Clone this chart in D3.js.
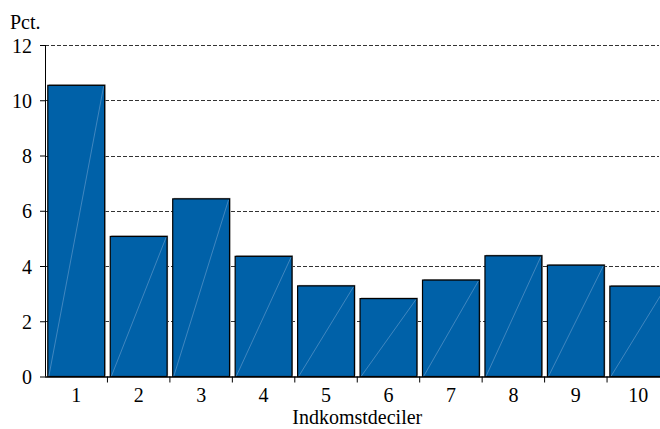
<!DOCTYPE html>
<html>
<head>
<meta charset="utf-8">
<script src="https://cdn.jsdelivr.net/npm/d3@7"></script>
<style>
  html, body { margin: 0; padding: 0; background: #fff; }
  svg { display: block; }
  svg text { font-family: "Liberation Serif", "Times New Roman", Times, serif !important; }
</style>
</head>
<body>
<svg id="chart" width="660" height="429"></svg>
<script>
// Andel pr. indkomstdecil
const deciles = ["1", "2", "3", "4", "5", "6", "7", "8", "9", "10"];
const values = [10.54, 5.07, 6.43, 4.35, 3.28, 2.82, 3.49, 4.37, 4.03, 3.27];
const yTicks = [0, 2, 4, 6, 8, 10, 12];
const yLabel = "Pct.";
const xLabel = "Indkomstdeciler";

const FS = 20;

const svg = d3.select("#chart");
const plotLeft = 45, plotRight = 669.5, plotTop = 45, plotBottom = 376.5;

const x = d3.scaleBand().domain(deciles).range([plotLeft, plotRight])
  .paddingInner(0.09).paddingOuter(0.045);
const y = d3.scaleLinear().domain([0, 12]).range([plotBottom, plotTop]);

// dashed gridlines
svg.append("g").selectAll("line").data(yTicks.filter(d => d > 0)).join("line")
  .attr("x1", plotLeft).attr("x2", 659)
  .attr("y1", d => Math.round(y(d)) + 0.5).attr("y2", d => Math.round(y(d)) + 0.5)
  .attr("stroke", "#333").attr("stroke-width", 1)
  .attr("stroke-dasharray", "4,2");

// bars: grey offset shadow, blue body, light diagonal
const bars = svg.append("g").selectAll("g").data(deciles).join("g");
bars.append("rect")
  .attr("x", (d) => x(d) + 1)
  .attr("y", (d, i) => y(values[i]) - 1)
  .attr("width", x.bandwidth())
  .attr("height", (d, i) => plotBottom - y(values[i]))
  .attr("fill", "#9a9a9a");
bars.append("rect")
  .attr("x", d => x(d))
  .attr("y", (d, i) => y(values[i]))
  .attr("width", x.bandwidth())
  .attr("height", (d, i) => plotBottom - y(values[i]))
  .attr("fill", "#0061a8")
  .attr("stroke", "#000").attr("stroke-width", 1.2);
bars.append("line")
  .attr("x1", d => x(d) + 1).attr("y1", plotBottom)
  .attr("x2", d => x(d) + x.bandwidth() - 1)
  .attr("y2", (d, i) => y(values[i]) + 1)
  .attr("stroke", "#5b97c8").attr("stroke-width", 0.7);

// y axis
const yAxis = svg.append("g").attr("transform", `translate(${plotLeft},0)`)
  .call(d3.axisLeft(y).tickValues(yTicks).tickSize(5).tickPadding(8).tickFormat(d3.format("d")))
  .attr("font-size", FS);
yAxis.select(".domain").attr("stroke", "#000").attr("d", `M0.5,${plotTop}V${plotBottom}`);
yAxis.selectAll(".tick line").attr("stroke", "#000");
yAxis.selectAll(".tick text").attr("fill", "#000").attr("dy", "0.35em");

// x axis with ticks at band boundaries
const xg = svg.append("g").attr("transform", `translate(0,${plotBottom})`)
  .attr("font-size", FS);
xg.append("line").attr("x1", plotLeft).attr("x2", 660).attr("y1", 0.5).attr("y2", 0.5)
  .attr("stroke", "#000").attr("stroke-width", 1.3);
const step = x.step();
const bounds = d3.range(deciles.length).map(i => plotLeft + i * step);
xg.selectAll("line.tk").data(bounds.slice(1)).join("line").attr("class", "tk")
  .attr("x1", d => d).attr("x2", d => d).attr("y1", 0).attr("y2", 6)
  .attr("stroke", "#000");
xg.selectAll("text").data(deciles).join("text")
  .attr("x", d => x(d) + x.bandwidth() / 2).attr("y", 25.5)
  .attr("text-anchor", "middle").attr("fill", "#000")
  .text(d => d);

svg.append("text").attr("x", 10).attr("y", 29).attr("font-size", FS).text(yLabel);
svg.append("text").attr("x", (plotLeft + plotRight) / 2).attr("y", 424)
  .attr("font-size", FS).attr("text-anchor", "middle").text(xLabel);
</script>
</body>
</html>
